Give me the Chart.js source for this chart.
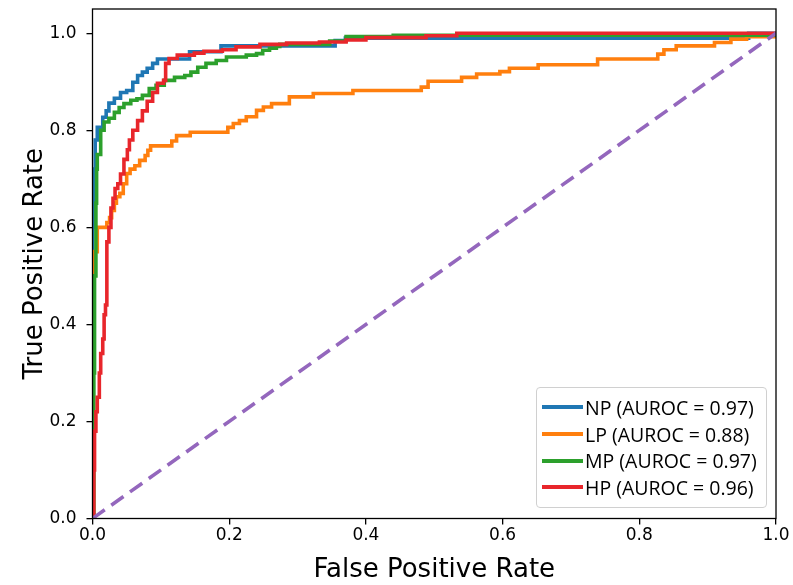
<!DOCTYPE html>
<html><head><meta charset="utf-8">
<script src="https://cdn.jsdelivr.net/npm/chart.js@4.4.1/dist/chart.umd.min.js"></script>
<style>
html,body{margin:0;padding:0;background:#fff;}
#wrap{position:relative;width:793px;height:585px;}
canvas{display:block;}
#legend{position:absolute;left:536px;top:387px;width:231px;height:121px;box-sizing:border-box;border:1px solid #d0d0d0;border-radius:4px;background:rgba(255,255,255,0.85);font-family:'Open Sans',sans-serif;font-size:19.5px;color:#000;padding-top:6px;}
.row{height:26.7px;display:flex;align-items:center;white-space:nowrap;}
.sw{width:41px;height:4px;margin-left:5px;margin-right:2px;flex:none;}
</style></head>
<body>
<div id="wrap"><canvas id="c" width="793" height="585"></canvas><div id="legend"></div></div>
<script>
// ---- data ----
const seriesNames = ['NP', 'LP', 'MP', 'HP'];
const aurocValues = [0.97, 0.88, 0.97, 0.96];
const seriesColors = ['#1f77b4', '#ff7f0e', '#2ca02c', '#e8262b'];

const npFpr = [0,0,0.002,0.004,0.007,0.015,0.02,0.024,0.032,0.041,0.05,0.059,0.066,0.073,0.08,0.088,0.095,0.142,0.188,0.355,0.37,0.957,0.96,1];
const npTpr = [0,0.6,0.72,0.78,0.806,0.827,0.84,0.856,0.866,0.878,0.882,0.899,0.913,0.92,0.928,0.938,0.947,0.962,0.974,0.985,0.99,0.99,1.0,1];

const lpFpr = [0,0,0.002,0.007,0.021,0.025,0.028,0.032,0.035,0.04,0.045,0.05,0.055,0.062,0.069,0.077,0.081,0.085,0.116,0.123,0.143,0.198,0.206,0.215,0.225,0.24,0.25,0.262,0.288,0.323,0.381,0.481,0.491,0.54,0.562,0.596,0.61,0.652,0.739,0.827,0.836,0.854,0.91,0.934,0.957,1];
const lpTpr = [0,0.5,0.55,0.6,0.61,0.62,0.635,0.65,0.663,0.67,0.69,0.711,0.72,0.727,0.738,0.748,0.759,0.768,0.778,0.789,0.796,0.806,0.814,0.82,0.828,0.841,0.848,0.855,0.869,0.876,0.882,0.889,0.901,0.909,0.916,0.921,0.928,0.935,0.947,0.957,0.966,0.974,0.981,0.988,0.993,1];

const mpFpr = [0,0.002,0.003,0.005,0.006,0.007,0.012,0.017,0.024,0.032,0.039,0.046,0.056,0.065,0.073,0.083,0.093,0.105,0.12,0.135,0.144,0.154,0.166,0.181,0.196,0.225,0.24,0.249,0.259,0.269,0.274,0.347,0.371,0.44,0.95,1];
const mpTpr = [0,0.3,0.5,0.65,0.72,0.75,0.8,0.817,0.825,0.837,0.847,0.855,0.862,0.865,0.872,0.886,0.893,0.903,0.909,0.913,0.92,0.93,0.938,0.944,0.951,0.955,0.958,0.965,0.969,0.973,0.977,0.984,0.993,0.996,0.996,1];

const hpFpr = [0,0.002,0.003,0.005,0.007,0.01,0.012,0.015,0.017,0.019,0.021,0.024,0.027,0.03,0.033,0.037,0.041,0.046,0.051,0.054,0.059,0.066,0.073,0.08,0.088,0.095,0.104,0.107,0.112,0.124,0.149,0.163,0.19,0.21,0.245,0.284,0.332,0.371,0.4,0.488,0.533,1];
const hpTpr = [0,0.1,0.18,0.22,0.25,0.3,0.34,0.37,0.42,0.44,0.57,0.6,0.64,0.66,0.68,0.69,0.71,0.74,0.76,0.78,0.8,0.82,0.84,0.86,0.878,0.897,0.903,0.938,0.948,0.955,0.959,0.963,0.966,0.972,0.977,0.98,0.982,0.986,0.991,0.995,1.0,1];

const chanceFpr = [0, 1];
const chanceTpr = [0, 1];

const xTickValues = [0, 0.2, 0.4, 0.6, 0.8, 1.0];
const yTickValues = [0, 0.2, 0.4, 0.6, 0.8, 1.0];

// ---- build ----
const toPts = (xs, ys) => xs.map((x, i) => ({x: x, y: ys[i]}));
const fprs = [npFpr, lpFpr, mpFpr, hpFpr];
const tprs = [npTpr, lpTpr, mpTpr, hpTpr];

const datasets = seriesNames.map((n, i) => ({
  label: n + ' (AUROC = ' + aurocValues[i].toFixed(2) + ')',
  data: toPts(fprs[i], tprs[i]),
  borderColor: seriesColors[i],
  borderWidth: 3.6,
  pointRadius: 0,
  stepped: 'before',
  fill: false,
  order: 4 - i,
  borderJoinStyle: 'miter',
  borderCapStyle: 'butt'
}));
datasets.push({
  label: 'chance',
  data: toPts(chanceFpr, chanceTpr),
  borderColor: '#9467bd',
  borderWidth: 3.6,
  borderDash: [15, 8],
  pointRadius: 0,
  fill: false,
  order: 0
});

const framePlugin = {
  id: 'frame',
  afterDatasetsDraw(chart) {
    const a = chart.chartArea, ctx = chart.ctx;
    ctx.save();
    ctx.strokeStyle = '#000';
    ctx.lineWidth = 1.3;
    ctx.strokeRect(a.left, a.top, a.right - a.left, a.bottom - a.top);
    ctx.restore();
  }
};

const tickFont = {family: 'DejaVu Sans', size: 17};
const titleFont = {family: 'DejaVu Sans', size: 26, lineHeight: 1};

new Chart(document.getElementById('c'), {
  type: 'line',
  data: {datasets: datasets},
  options: {
    responsive: false,
    devicePixelRatio: 1,
    animation: false,
    layout: {padding: {top: 9, right: 17, left: 0, bottom: 0}},
    plugins: {legend: {display: false}, tooltip: {enabled: false}},
    scales: {
      x: {
        type: 'linear', min: 0, max: 1,
        afterBuildTicks: s => { s.ticks = xTickValues.map(v => ({value: v})); },
        afterFit: s => { s.height = 66.5; s.paddingLeft = 0; s.paddingRight = 0; },
        grid: {drawOnChartArea: false, drawTicks: true, tickLength: 6, color: '#000', lineWidth: 1.3},
        border: {display: false},
        ticks: {font: tickFont, color: '#000', padding: 1, maxRotation: 0, callback: v => Number(v).toFixed(1)},
        title: {display: true, text: 'False Positive Rate', font: titleFont, color: '#000', padding: {top: 0, bottom: 2}}
      },
      y: {
        type: 'linear', min: 0, max: 1.05,
        afterBuildTicks: s => { s.ticks = yTickValues.map(v => ({value: v})); },
        afterFit: s => { s.width = 92.5; s.paddingTop = 0; s.paddingBottom = 0; },
        grid: {drawOnChartArea: false, drawTicks: true, tickLength: 6, color: '#000', lineWidth: 1.3},
        border: {display: false},
        ticks: {font: tickFont, color: '#000', padding: 10, callback: v => Number(v).toFixed(1)},
        title: {display: true, text: 'True Positive Rate', font: titleFont, color: '#000', padding: {top: 22, bottom: 0}}
      }
    }
  },
  plugins: [framePlugin]
});

// legend (HTML text)
const leg = document.getElementById('legend');
seriesNames.forEach((n, i) => {
  const row = document.createElement('div');
  row.className = 'row';
  const sw = document.createElement('div');
  sw.className = 'sw';
  sw.style.background = seriesColors[i];
  const t = document.createElement('span');
  t.textContent = n + ' (AUROC = ' + aurocValues[i].toFixed(2) + ')';
  row.appendChild(sw); row.appendChild(t);
  leg.appendChild(row);
});
</script>
</body></html>
